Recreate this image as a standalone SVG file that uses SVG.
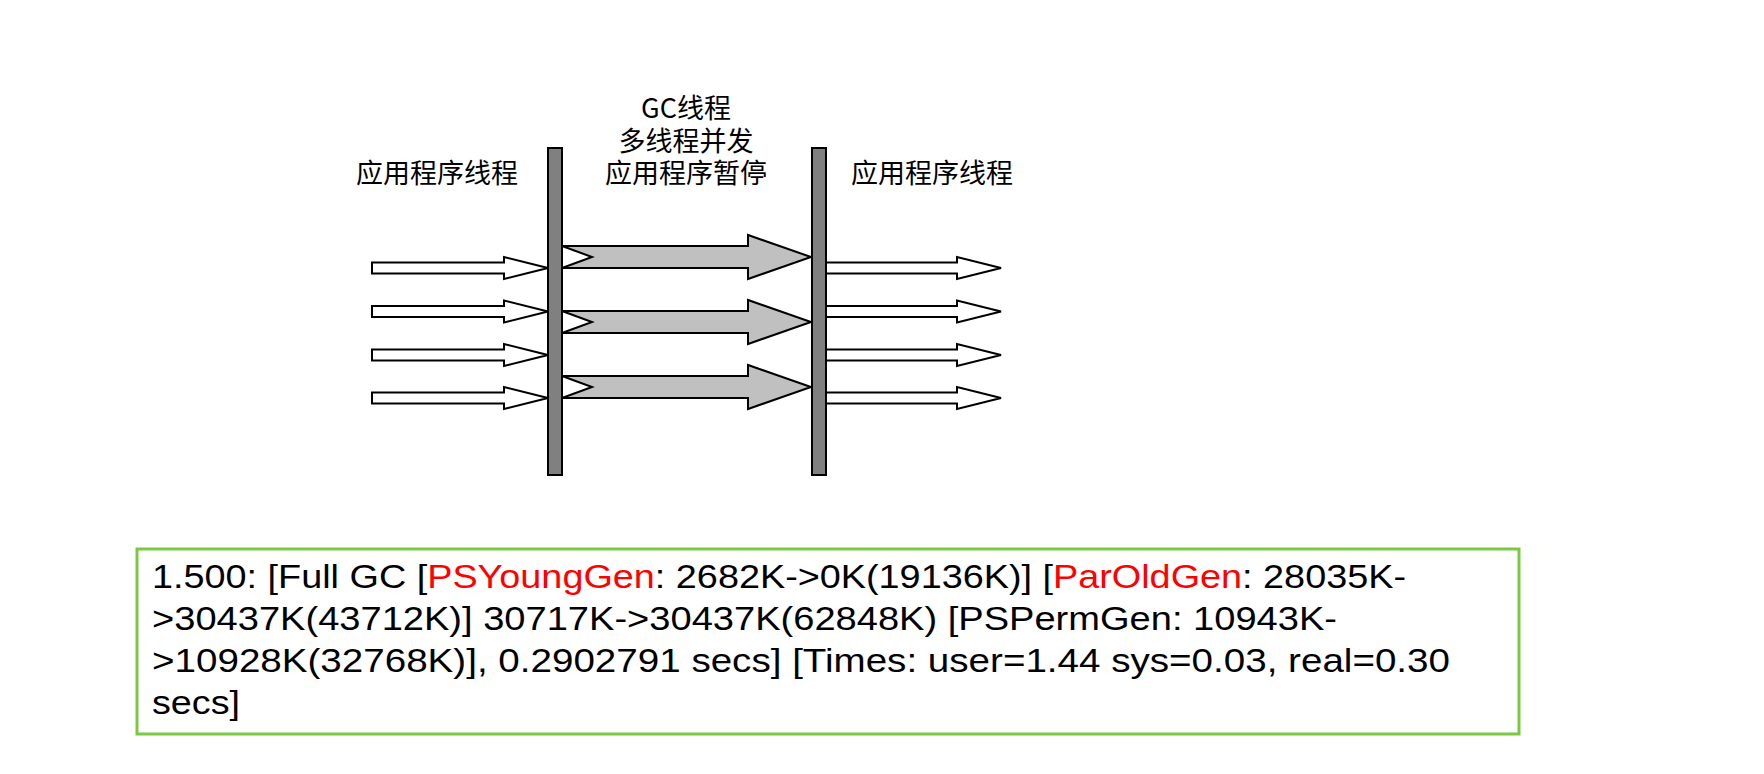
<svg xmlns="http://www.w3.org/2000/svg" width="1764" height="774" viewBox="0 0 1764 774">
<style>
.lbl{font-family:"Noto Sans CJK SC","Liberation Sans",sans-serif;font-size:27px;fill:#000;text-anchor:middle}
.bar{fill:#808080;stroke:#000;stroke-width:2}
.wa{fill:#fff;stroke:#000;stroke-width:2;stroke-linejoin:miter}
.ga{fill:#c0c0c0;stroke:#000;stroke-width:2;stroke-linejoin:miter}
.log{font-family:"Liberation Sans",Arial,sans-serif;font-size:33px;fill:#000}
.red{fill:#ff0000}
</style>
<rect width="1764" height="774" fill="#fff"/>
<g id="labels">
<text class="lbl" x="437" y="183">应用程序线程</text>
<text class="lbl" x="686" y="118">GC线程</text>
<text class="lbl" x="686" y="151">多线程并发</text>
<text class="lbl" x="686" y="183">应用程序暂停</text>
<text class="lbl" x="932" y="183">应用程序线程</text>
</g>
<g id="connectors">
<path class="wa" d="M372,262.5 H504 V257 L548,268 L504,279 V273.5 H372 Z"/>
<path class="wa" d="M372,306 H504 V300.5 L548,311.5 L504,322.5 V317 H372 Z"/>
<path class="wa" d="M372,349.5 H504 V344 L548,355 L504,366 V360.5 H372 Z"/>
<path class="wa" d="M372,392.5 H504 V387 L548,398 L504,409 V403.5 H372 Z"/>
<path class="ga" d="M562,246 H748 V235 L811,257 L748,279 V268 H562 L592,257 Z"/>
<path class="ga" d="M562,311 H748 V300 L811,322 L748,344 V333 H562 L592,322 Z"/>
<path class="ga" d="M562,376 H748 V365 L811,387 L748,409 V398 H562 L592,387 Z"/>
<path class="wa" d="M826,262.5 H957 V257 L1001,268 L957,279 V273.5 H826 Z"/>
<path class="wa" d="M826,306 H957 V300.5 L1001,311.5 L957,322.5 V317 H826 Z"/>
<path class="wa" d="M826,349.5 H957 V344 L1001,355 L957,366 V360.5 H826 Z"/>
<path class="wa" d="M826,392.5 H957 V387 L1001,398 L957,409 V403.5 H826 Z"/>
</g>
<g id="bar-left"><rect class="bar" x="548" y="148" width="14" height="327"/></g>
<g id="bar-right"><rect class="bar" x="812" y="148" width="14" height="327"/></g>
<g id="log-box">
<rect x="137" y="549" width="1382" height="185" fill="#fff" stroke="#7ac943" stroke-width="3"/>
<text class="log" x="152" y="588" textLength="1254" lengthAdjust="spacingAndGlyphs">1.500: [Full GC [<tspan class="red">PSYoungGen</tspan>: 2682K-&gt;0K(19136K)] [<tspan class="red">ParOldGen</tspan>: 28035K-</text>
<text class="log" x="152" y="630" textLength="1185" lengthAdjust="spacingAndGlyphs">&gt;30437K(43712K)] 30717K-&gt;30437K(62848K) [PSPermGen: 10943K-</text>
<text class="log" x="152" y="672" textLength="1298" lengthAdjust="spacingAndGlyphs">&gt;10928K(32768K)], 0.2902791 secs] [Times: user=1.44 sys=0.03, real=0.30</text>
<text class="log" x="152" y="714" textLength="88" lengthAdjust="spacingAndGlyphs">secs]</text>
</g>
</svg>
